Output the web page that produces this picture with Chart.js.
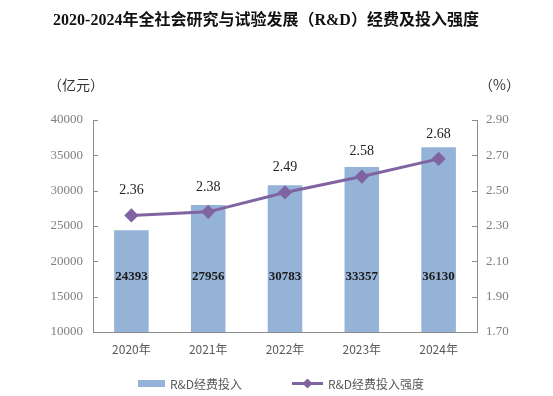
<!DOCTYPE html>
<html>
<head>
<meta charset="utf-8">
<script src="https://cdn.jsdelivr.net/npm/chart.js@4/dist/chart.umd.min.js"></script>
<style>
html,body{margin:0;padding:0;background:#fff;}
canvas{display:block;}
</style>
</head>
<body>
<canvas id="c" width="553" height="396"></canvas>
<script>
const categories = ['2020年', '2021年', '2022年', '2023年', '2024年'];
const rdSpending = [24393, 27956, 30783, 33357, 36130];
const rdIntensity = [2.36, 2.38, 2.49, 2.58, 2.68];
const leftTicks = [10000, 15000, 20000, 25000, 30000, 35000, 40000];
const rightTicks = [1.70, 1.90, 2.10, 2.30, 2.50, 2.70, 2.90];
const titleText = '2020-2024年全社会研究与试验发展（R&D）经费及投入强度';
const seriesNames = ['R&D经费投入', 'R&D经费投入强度'];
const unitLeft = '（亿元）';
const unitRight = '（%）';

const BAR_COLOR = '#95b3d7';
const LINE_COLOR = '#8064a2';
const AXIS_COLOR = '#8c8c8c';
const CJK = '"Noto Sans CJK SC", sans-serif';
const SERIF = '"Liberation Serif", "Noto Sans CJK SC", serif';

const decor = {
  id: 'decor',
  afterDraw(chart) {
    const ctx = chart.ctx;
    const ca = chart.chartArea;
    const ys = chart.scales.y, y1 = chart.scales.y1;
    ctx.save();
    // title
    ctx.fillStyle = '#111';
    ctx.font = 'bold 16px ' + SERIF;
    ctx.textAlign = 'center';
    ctx.textBaseline = 'middle';
    ctx.fillText(titleText, 266, 21);
    // units
    ctx.fillStyle = '#333';
    ctx.font = '14px ' + CJK;
    ctx.textAlign = 'left';
    ctx.fillText(unitLeft, 48, 85);
    ctx.fillText(unitRight, 479, 85);
    // inward tick marks
    ctx.strokeStyle = AXIS_COLOR;
    ctx.lineWidth = 1;
    ctx.beginPath();
    leftTicks.forEach(v => {
      const p = Math.round(ys.getPixelForValue(v)) + 0.5;
      ctx.moveTo(ca.left, p); ctx.lineTo(ca.left + 5, p);
    });
    rightTicks.forEach(v => {
      const p = Math.round(y1.getPixelForValue(v)) + 0.5;
      ctx.moveTo(ca.right, p); ctx.lineTo(ca.right - 5, p);
    });
    ctx.stroke();
    // legend
    ctx.fillStyle = BAR_COLOR;
    ctx.fillRect(138, 380, 27, 7);
    ctx.strokeStyle = LINE_COLOR;
    ctx.lineWidth = 3;
    ctx.beginPath(); ctx.moveTo(292, 383.5); ctx.lineTo(323, 383.5); ctx.stroke();
    ctx.fillStyle = LINE_COLOR;
    ctx.beginPath();
    ctx.moveTo(307.5, 378.5); ctx.lineTo(312.5, 383.5); ctx.lineTo(307.5, 388.5); ctx.lineTo(302.5, 383.5);
    ctx.closePath(); ctx.fill();
    ctx.fillStyle = '#595959';
    ctx.font = '12px ' + CJK;
    ctx.textAlign = 'left';
    ctx.fillText(seriesNames[0], 170, 384);
    ctx.fillText(seriesNames[1], 328, 384);
    ctx.restore();
  },
  afterDatasetsDraw(chart) {
    const ctx = chart.ctx;
    const ca = chart.chartArea;
    ctx.save();
    ctx.textAlign = 'center';
    ctx.textBaseline = 'middle';
    ctx.fillStyle = '#1a1a1a';
    ctx.font = 'bold 13px ' + SERIF;
    const barMeta = chart.getDatasetMeta(1);
    barMeta.data.forEach((el, i) => {
      ctx.fillText(String(rdSpending[i]), el.x, ca.bottom - 55);
    });
    ctx.font = '14px ' + SERIF;
    ctx.fillStyle = '#222';
    const lineMeta = chart.getDatasetMeta(0);
    lineMeta.data.forEach((el, i) => {
      ctx.fillText(rdIntensity[i].toFixed(2), el.x, el.y - 25);
    });
    ctx.restore();
  }
};

new Chart(document.getElementById('c'), {
  type: 'bar',
  data: {
    labels: categories,
    datasets: [
      {
        type: 'line',
        label: seriesNames[1],
        data: rdIntensity,
        yAxisID: 'y1',
        borderColor: LINE_COLOR,
        backgroundColor: LINE_COLOR,
        borderWidth: 3,
        pointStyle: 'rectRot',
        pointRadius: 5,
        pointBackgroundColor: LINE_COLOR,
        pointBorderColor: LINE_COLOR,
        tension: 0,
        order: 0
      },
      {
        type: 'bar',
        label: seriesNames[0],
        data: rdSpending,
        yAxisID: 'y',
        backgroundColor: BAR_COLOR,
        barPercentage: 0.45,
        categoryPercentage: 1,
        order: 1
      }
    ]
  },
  options: {
    responsive: false,
    animation: false,
    layout: { padding: { top: 120, left: 0, right: 0, bottom: 0 } },
    plugins: { legend: { display: false }, title: { display: false }, tooltip: { enabled: false } },
    scales: {
      x: {
        grid: { display: false, drawTicks: false },
        border: { display: true, color: AXIS_COLOR },
        ticks: { color: '#595959', font: { family: CJK, size: 12 }, padding: 10 },
        afterFit(s) { s.height = 64; }
      },
      y: {
        position: 'left',
        min: 10000, max: 40000,
        grid: { display: false, drawTicks: false },
        border: { display: true, color: AXIS_COLOR },
        afterBuildTicks(s) { s.ticks = leftTicks.map(v => ({ value: v })); },
        ticks: { color: '#7f7f7f', font: { family: SERIF, size: 13 }, padding: 10,
          callback: v => String(v) },
        afterFit(s) { s.width = 93; }
      },
      y1: {
        position: 'right',
        min: 1.7, max: 2.9,
        grid: { display: false, drawTicks: false },
        border: { display: true, color: AXIS_COLOR },
        afterBuildTicks(s) { s.ticks = rightTicks.map(v => ({ value: v })); },
        ticks: { color: '#7f7f7f', font: { family: SERIF, size: 13 }, padding: 9,
          callback: v => Number(v).toFixed(2) },
        afterFit(s) { s.width = 76; }
      }
    }
  },
  plugins: [decor]
});
</script>
</body>
</html>
